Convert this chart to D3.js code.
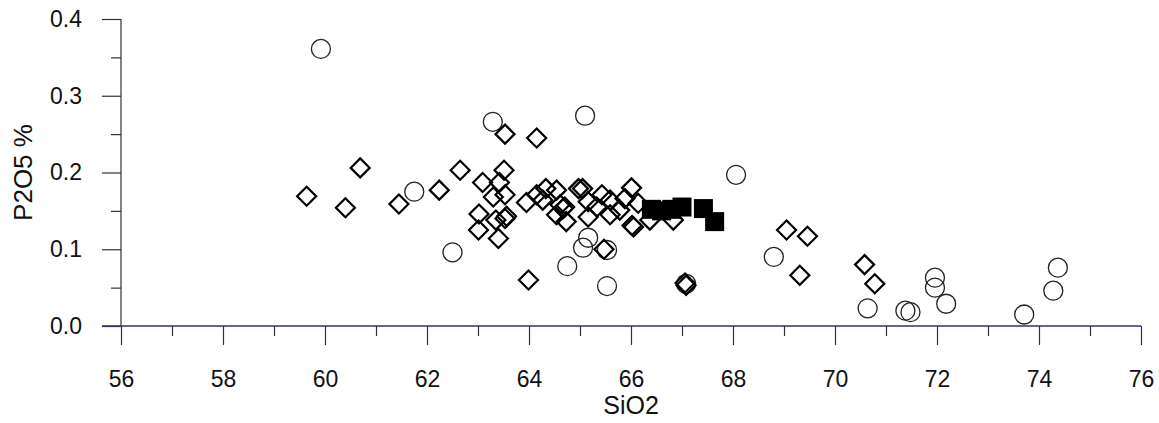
<!DOCTYPE html>
<html>
<head>
<meta charset="utf-8">
<script src="https://cdn.jsdelivr.net/npm/d3@7"></script>
<style>
  html, body { margin: 0; padding: 0; background: #fff; }
  svg { display: block; }
  text { font-family: "Liberation Sans", Arial, Helvetica, sans-serif; fill: #111; }
</style>
</head>
<body>
<svg id="chart" width="1159" height="423"></svg>
<script>
// Axis ticks
const xTicks = [56, 58, 60, 62, 64, 66, 68, 70, 72, 74, 76];
const xMinorTicks = [57, 59, 61, 63, 65, 67, 69, 71, 73, 75];
const yTicks = [0.0, 0.1, 0.2, 0.3, 0.4];
const yMinorTicks = [0.05, 0.15, 0.25, 0.35];

// Open circles: [SiO2, P2O5]
const circles = [
  [59.92, 0.361], [61.75, 0.175], [62.50, 0.096], [63.29, 0.266], [65.10, 0.274],
  [65.16, 0.115], [65.06, 0.102], [65.53, 0.099], [64.75, 0.078], [65.53, 0.052],
  [67.08, 0.055], [68.06, 0.197], [68.80, 0.090], [70.64, 0.023], [71.38, 0.020],
  [71.48, 0.018], [71.96, 0.063], [71.96, 0.050], [72.18, 0.029], [73.71, 0.015],
  [74.28, 0.046], [74.37, 0.076]
];

// Open diamonds: [SiO2, P2O5]
const diamonds = [
  [59.64, 0.169], [60.40, 0.154], [60.69, 0.206], [61.45, 0.159], [62.24, 0.177], [62.65, 0.203],
  [63.09, 0.187], [63.02, 0.146], [63.01, 0.125], [63.30, 0.168], [63.35, 0.138], [63.40, 0.114],
  [63.42, 0.187], [63.51, 0.203], [63.53, 0.250], [63.53, 0.171], [63.53, 0.140], [63.56, 0.143],
  [63.99, 0.060], [63.95, 0.161], [64.15, 0.245], [64.15, 0.171], [64.33, 0.179], [64.27, 0.164],
  [64.54, 0.177], [64.61, 0.158], [64.67, 0.153], [64.54, 0.145], [64.73, 0.136], [64.70, 0.155],
  [64.97, 0.179], [65.05, 0.179], [65.16, 0.162], [65.16, 0.142], [65.43, 0.171], [65.33, 0.155],
  [65.59, 0.164], [65.59, 0.145], [65.78, 0.151], [66.01, 0.180], [65.88, 0.166], [66.05, 0.129],
  [66.02, 0.131], [66.14, 0.160], [66.37, 0.138], [66.83, 0.138], [65.47, 0.100], [67.08, 0.053],
  [67.06, 0.056], [69.05, 0.125], [69.46, 0.117], [69.31, 0.066], [70.58, 0.080], [70.78, 0.055]
];

// Filled squares: [SiO2, P2O5]
const squares = [
  [66.40, 0.152], [66.60, 0.150], [66.80, 0.152], [67.00, 0.155], [67.42, 0.153], [67.64, 0.136]
];

const svg = d3.select("#chart");
const x = d3.scaleLinear().domain([56, 76]).range([121, 1141]);
const y = d3.scaleLinear().domain([0, 0.4]).range([326, 19]);

const axisColor = "#333";

// Y axis
const yAxis = svg.append("g").attr("transform", `translate(${x(56)},0)`);
yAxis.call(d3.axisLeft(y).tickValues(yTicks).tickSize(19).tickFormat(d3.format(".1f")).tickPadding(20));
yAxis.select(".domain").remove();
yAxis.append("line").attr("x1", 0).attr("x2", 0).attr("y1", y(0.4)).attr("y2", y(0)).attr("stroke", axisColor).attr("stroke-width", 1.2);
yAxis.selectAll(".tick line").attr("stroke", axisColor).attr("stroke-width", 1.2);
yAxis.selectAll(".tick text").attr("font-size", 23).attr("fill", "#111").attr("font-family", "Liberation Sans, Arial, sans-serif");
const yMinor = svg.append("g").attr("transform", `translate(${x(56)},0)`);
yMinor.call(d3.axisLeft(y).tickValues(yMinorTicks).tickSize(10).tickFormat(""));
yMinor.select(".domain").remove();
yMinor.selectAll(".tick line").attr("stroke", axisColor).attr("stroke-width", 1.2);

// X axis
const xAxis = svg.append("g").attr("transform", `translate(0,${y(0)})`);
xAxis.call(d3.axisBottom(x).tickValues(xTicks).tickSize(19).tickFormat(d3.format("d")).tickPadding(26));
xAxis.select(".domain").remove();
xAxis.append("line").attr("x1", x(56) - 19).attr("x2", x(76)).attr("y1", 0).attr("y2", 0).attr("stroke", "#3a2d6e").attr("stroke-width", 1.3);
xAxis.selectAll(".tick line").attr("stroke", axisColor).attr("stroke-width", 1.2);
xAxis.selectAll(".tick text").attr("font-size", 23).attr("fill", "#111").attr("font-family", "Liberation Sans, Arial, sans-serif");
const xMinor = svg.append("g").attr("transform", `translate(0,${y(0)})`);
xMinor.call(d3.axisBottom(x).tickValues(xMinorTicks).tickSize(10).tickFormat(""));
xMinor.select(".domain").remove();
xMinor.selectAll(".tick line").attr("stroke", axisColor).attr("stroke-width", 1.2);

// Axis titles
svg.append("text")
  .attr("x", x(66)).attr("y", 414)
  .attr("text-anchor", "middle").attr("font-size", 25)
  .text("SiO2");
svg.append("text")
  .attr("transform", `translate(32,${(y(0) + y(0.4)) / 2}) rotate(-90)`)
  .attr("text-anchor", "middle").attr("font-size", 26)
  .text("P2O5 %");

// Marks
const r = 9.5;
svg.append("g").selectAll("circle").data(circles).join("circle")
  .attr("cx", d => x(d[0])).attr("cy", d => y(d[1])).attr("r", r)
  .attr("fill", "none").attr("stroke", "#222").attr("stroke-width", 1.3);

const dh = 9.5;
svg.append("g").selectAll("path").data(diamonds).join("path")
  .attr("d", d => {
    const cx = x(d[0]), cy = y(d[1]);
    return `M${cx},${cy - dh}L${cx + dh},${cy}L${cx},${cy + dh}L${cx - dh},${cy}Z`;
  })
  .attr("fill", "none").attr("stroke", "#000").attr("stroke-width", 2.2).attr("stroke-linejoin", "miter");

const s = 19;
svg.append("g").selectAll("rect").data(squares).join("rect")
  .attr("x", d => x(d[0]) - s / 2).attr("y", d => y(d[1]) - s / 2)
  .attr("width", s).attr("height", s).attr("fill", "#000");
</script>
</body>
</html>
